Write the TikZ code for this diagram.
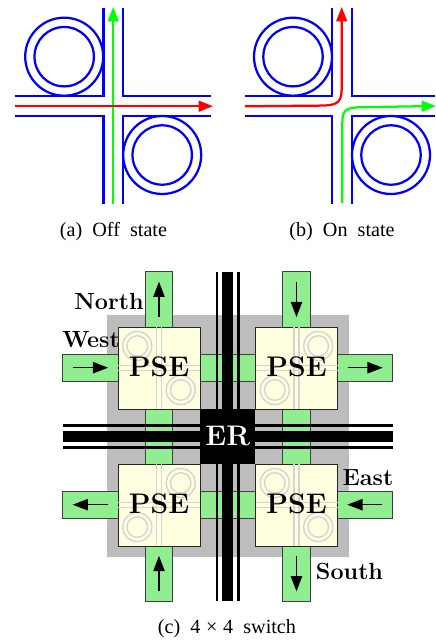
\documentclass[tikz,border=0pt]{standalone}
\usepackage{fontspec}
\newfontfamily\capfont{Liberation Serif}
\usetikzlibrary{arrows.meta, positioning}
\definecolor{portgreen}{RGB}{144,238,144}
\definecolor{pseyellow}{RGB}{255,255,224}

\begin{document}
\begin{tikzpicture}[x=0.6pt, y=-0.6pt, thick]

	\tikzstyle{wg}=[blue, line width=1.35pt]
	\tikzstyle{sig}=[line width=1.35pt, -{Triangle[length=8.6pt, width=6.4pt]}]
	\tikzstyle{minisw}=[black!17, line width=0.85pt]
	\tikzstyle{stub}=[rectangle, draw=black!75, line width=0.5pt, fill=portgreen, inner sep=0pt]
	\tikzstyle{stubh}=[stub, minimum width=33.2pt, minimum height=16.4pt]
	\tikzstyle{stubv}=[stub, minimum width=16.4pt, minimum height=33.2pt]
	\tikzstyle{pse}=[rectangle, draw=black!85, line width=0.6pt, fill=pseyellow, minimum size=49.2pt, inner sep=0pt]
	\tikzstyle{flow}=[black, line width=0.85pt, -{Triangle[length=9.2pt, width=6.8pt]}, shorten <=6.4pt, shorten >=6.2pt]
	\tikzstyle{caplabel}=[font=\capfont\fontsize{12.1}{14}\selectfont]
	\tikzstyle{dirlabel}=[font=\bfseries\fontsize{14}{15}\selectfont]

	\useasboundingbox (0,0) rectangle (435,644);

	% Off and on state switches
	\foreach \cx/\lx/\rx in {113.2/15/211, 342/245/435} {
		\draw[wg] (\cx-9.8,8) -- (\cx-9.8,96.3) -- (\lx,96.3);
		\draw[wg] (\cx+9.8,8) -- (\cx+9.8,96.3) -- (\rx,96.3);
		\draw[wg] (\cx-9.8,204) -- (\cx-9.8,116) -- (\lx,116);
		\draw[wg] (\cx+9.8,204) -- (\cx+9.8,116) -- (\rx,116);
		\foreach \ox/\oy in {-49/56.7, 49/155} {
			\draw[wg] (\cx+\ox,\oy) circle (39);
			\draw[wg] (\cx+\ox,\oy) circle (29.7);
		}
	}
	\draw[sig, green] (113.2,204) -- (113.2,7);
	\draw[sig, red] (15,106.2) -- (213,106.2);
	\draw[sig, red] (245,106.3) -- (322,105.6) .. controls (338,105.2) and (341.7,102) .. (341.7,88) -- (341.7,7);
	\draw[sig, green] (342.3,203) -- (342.3,124) .. controls (342.3,110) and (345,107.6) .. (362,107.2) -- (436,106);

	\node[caplabel] (capa) at (113.5,232) {(a)\ \ Off\ \ state};
	\node[caplabel] (capb) at (342,232) {(b)\ \ On\ \ state};

	% Background of the 4x4 switch
	\fill[black!26] (106.7,315.3) rectangle (349,557.3);

	% Channels between the switch elements
	\node[stubh] (chn) at (227.7,367.7) {};
	\node[stubh] (chs) at (227.7,504.7) {};
	\node[stubv] (chw) at (159,436.3) {};
	\node[stubv] (che) at (296.5,436.3) {};

	% Ejection rings
	\fill[black] (222,271.5) rectangle (233.4,601);
	\fill[black] (215.7,271.5) rectangle (218.2,601);
	\fill[black] (237.2,271.5) rectangle (239.7,601);
	\fill[black] (62.7,430.7) rectangle (392.5,442.3);
	\fill[black] (62.7,424.2) rectangle (392.5,426.7);
	\fill[black] (62.7,446.1) rectangle (392.5,448.6);

	\node[rectangle, fill=black, text=white, minimum size=33pt, inner sep=0pt, font=\bfseries\fontsize{17}{18}\selectfont] (er) at (227.7,436.3) {ER};

	% Ports
	\node[stubv] (nwn) at (159,299.4) {};
	\node[stubh] (nww) at (90.4,367.7) {};
	\node[stubv] (nen) at (296.5,299.4) {};
	\node[stubh] (nee) at (365,367.7) {};
	\node[stubh] (sww) at (90.4,504.7) {};
	\node[stubv] (sws) at (159,573.6) {};
	\node[stubh] (see) at (365,504.7) {};
	\node[stubv] (ses) at (296.5,573.6) {};

	% Switch elements
	\foreach \name/\px/\py/\ra/\rb in {nw/159/368/-21.7/-22, ne/296.5/368/21.7/-22, sw/159/505/21.7/-22, se/296.5/505/-21.7/-22} {
		\node[pse] (\name) at (\px,\py) {};
		\draw[minisw] (\px-2.7,\py-41) -- (\px-2.7,\py+41);
		\draw[minisw] (\px+2.7,\py-41) -- (\px+2.7,\py+41);
		\draw[minisw] (\px-41,\py-2.7) -- (\px+41,\py-2.7);
		\draw[minisw] (\px-41,\py+2.7) -- (\px+41,\py+2.7);
		\foreach \sgn in {1,-1} {
			\draw[minisw] (\px+\sgn*\ra,\py+\sgn*\rb) circle (14.5);
			\draw[minisw] (\px+\sgn*\ra,\py+\sgn*\rb) circle (10.3);
		}
		\node[font=\bfseries\fontsize{17}{18}\selectfont] (\name text) at (\px,\py-1.5) {PSE};
	}

	% Flow direction in the ports
	\draw[flow] (nwn.south) -- (nwn.north);
	\draw[flow] (nww.west) -- (nww.east);
	\draw[flow] (nen.north) -- (nen.south);
	\draw[flow] (nee.west) -- (nee.east);
	\draw[flow] (sww.east) -- (sww.west);
	\draw[flow] (sws.south) -- (sws.north);
	\draw[flow] (see.east) -- (see.west);
	\draw[flow] (ses.north) -- (ses.south);

	\node[dirlabel] (north) at (109,301) {North};
	\node[dirlabel] (west) at (91,340) {West};
	\node[dirlabel] (east) at (368,478) {East};
	\node[dirlabel] (south) at (349.5,571) {South};

	\node[caplabel] (capc) at (227,629) {(c)\ \ 4\hspace{3.4pt}×\hspace{3.4pt}4\ \ switch};

\end{tikzpicture}
\end{document}
